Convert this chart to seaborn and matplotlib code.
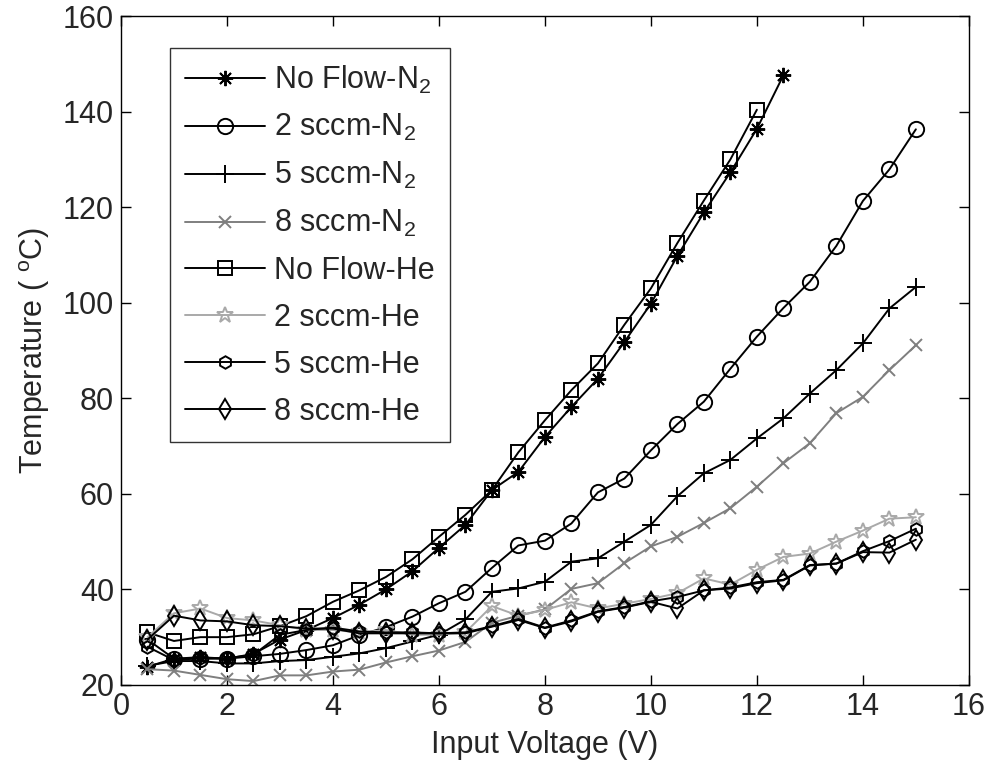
import matplotlib
matplotlib.use("Agg")
import matplotlib.pyplot as plt
import seaborn as sns
import pandas as pd
import numpy as np

# input voltage steps (V)
volts = [0.5, 1, 1.5, 2, 2.5, 3, 3.5, 4, 4.5, 5, 5.5, 6, 6.5, 7, 7.5,
         8, 8.5, 9, 9.5, 10, 10.5, 11, 11.5, 12, 12.5, 13, 13.5, 14, 14.5, 15]

# temperatures (deg C)
noflow_n2 = [23.8, 25.5, 25.8, 25.5, 26.5, 29.5, 31.5, 34.0, 36.8, 40.0, 43.8, 48.7, 53.5,
             60.8, 64.6, 71.9, 78.2, 84.1, 91.8, 99.8, 109.8, 118.9, 127.3, 136.4, 147.6]
sccm2_n2 = [29.5, 25.5, 25.5, 25.5, 26.0, 26.5, 27.3, 28.3, 30.4, 32.1, 34.3, 37.1, 39.5, 44.5, 49.2,
            50.2, 53.8, 60.3, 63.2, 69.1, 74.6, 79.3, 86.2, 92.9, 98.9, 104.4, 111.9, 121.3, 127.9, 136.3]
sccm5_n2 = [24.0, 25.0, 25.0, 24.5, 24.5, 25.0, 25.2, 25.9, 26.6, 27.7, 29.1, 30.5, 33.7, 39.5, 40.2,
            41.6, 45.8, 46.5, 50.0, 53.5, 59.5, 64.3, 67.1, 71.6, 75.8, 81.0, 85.9, 91.5, 98.8, 103.3]
sccm8_n2 = [23.3, 23.0, 22.1, 21.2, 20.8, 22.0, 22.0, 22.8, 23.2, 24.7, 26.0, 27.2, 29.0, 33.0, 34.5,
            35.8, 40.1, 41.3, 45.5, 49.0, 51.0, 53.9, 57.0, 61.5, 66.4, 70.6, 76.9, 80.3, 85.9, 91.1]
noflow_he = [31.0, 29.2, 30.0, 30.0, 30.6, 32.3, 34.4, 37.4, 39.8, 42.6, 46.3, 51.0,
             55.6, 60.8, 68.7, 75.4, 81.7, 87.3, 95.4, 103.0, 112.5, 121.4, 130.0, 140.4]
sccm2_he = [30.0, 35.0, 36.0, 34.0, 33.5, 32.5, 31.5, 31.5, 31.0, 31.5, 30.5, 30.5, 31.0, 36.5, 34.5,
            35.7, 37.3, 36.0, 37.0, 38.0, 39.2, 42.3, 41.0, 44.1, 46.8, 47.5, 50.0, 52.3, 54.8, 55.1]
sccm5_he = [28.0, 25.2, 25.6, 25.6, 26.3, 30.5, 31.5, 32.0, 31.2, 31.0, 31.0, 30.8, 31.0, 32.3, 33.8,
            32.0, 33.5, 35.4, 36.3, 37.5, 38.4, 39.8, 40.4, 41.5, 42.0, 45.1, 45.4, 48.0, 50.1, 52.7]
sccm8_he = [29.5, 34.5, 33.5, 33.3, 32.5, 32.3, 31.8, 31.8, 30.8, 30.8, 30.8, 30.8, 30.8, 32.2, 33.6,
            31.9, 33.3, 35.3, 36.2, 37.4, 36.0, 39.8, 40.2, 41.3, 41.9, 45.0, 45.4, 47.8, 47.7, 50.4]

labels = ["No Flow-N$_2$", "2 sccm-N$_2$", "5 sccm-N$_2$", "8 sccm-N$_2$",
          "No Flow-He", "2 sccm-He", "5 sccm-He", "8 sccm-He"]
series = [noflow_n2, sccm2_n2, sccm5_n2, sccm8_n2, noflow_he, sccm2_he, sccm5_he, sccm8_he]

frames = []
for lab, vals in zip(labels, series):
    frames.append(pd.DataFrame({"V": volts[:len(vals)], "T": vals, "series": lab}))
df = pd.concat(frames, ignore_index=True)

# MATLAB-ish styles per series: (colour, marker, size)
styles = {
    labels[0]: ("black", (8, 2, 0), 11),
    labels[1]: ("black", "o", 11),
    labels[2]: ("black", "+", 13),
    labels[3]: ("#7f7f7f", "x", 8),
    labels[4]: ("black", "s", 10),
    labels[5]: ("#a9a9a9", "*", 12),
    labels[6]: ("black", "h", 9),
    labels[7]: ("black", "d", 10),
}

sns.set_theme(style="ticks")
plt.rcParams["font.family"] = ["Liberation Sans", "DejaVu Sans"]
plt.rcParams["mathtext.fontset"] = "custom"
plt.rcParams["mathtext.rm"] = "Liberation Sans"
plt.rcParams["mathtext.it"] = "Liberation Sans"
plt.rcParams["xtick.direction"] = "in"
plt.rcParams["ytick.direction"] = "in"

fig = plt.figure(figsize=(9.94, 7.67), dpi=100)
ax = fig.add_axes([0.1217, 0.107, 0.853, 0.872])

for lab in labels:
    col, mk, ms = styles[lab]
    sub = df[df["series"] == lab]
    sns.lineplot(data=sub, x="V", y="T", ax=ax, color=col, marker=mk, markersize=ms,
                 markerfacecolor="none", markeredgecolor=col, markeredgewidth=1.4,
                 linewidth=1.4, label=lab, sort=False, errorbar=None)

ax.set_xlim(0, 16)
ax.set_ylim(20, 160)
ax.set_xticks(np.arange(0, 17, 2))
ax.set_yticks(np.arange(20, 161, 20))
ax.tick_params(labelsize=22, length=7, width=1, top=True, right=True, color="black", pad=5)
for sp in ax.spines.values():
    sp.set_visible(True)
    sp.set_color("black")
    sp.set_linewidth(1.0)
ax.set_xlabel("Input Voltage (V)", fontsize=22, labelpad=6)
ax.set_ylabel("Temperature ( $^{\\rm o}$C)", fontsize=22, labelpad=8)

leg = ax.legend(loc="upper left", bbox_to_anchor=(0.058, 0.952), borderaxespad=0,
                fontsize=22, frameon=True, fancybox=False, handlelength=2.6,
                labelspacing=0.55, handletextpad=0.3, borderpad=0.5)
leg.get_frame().set_edgecolor("black")
leg.get_frame().set_linewidth(1.0)

fig.savefig("out.png", dpi=100, facecolor="white")
